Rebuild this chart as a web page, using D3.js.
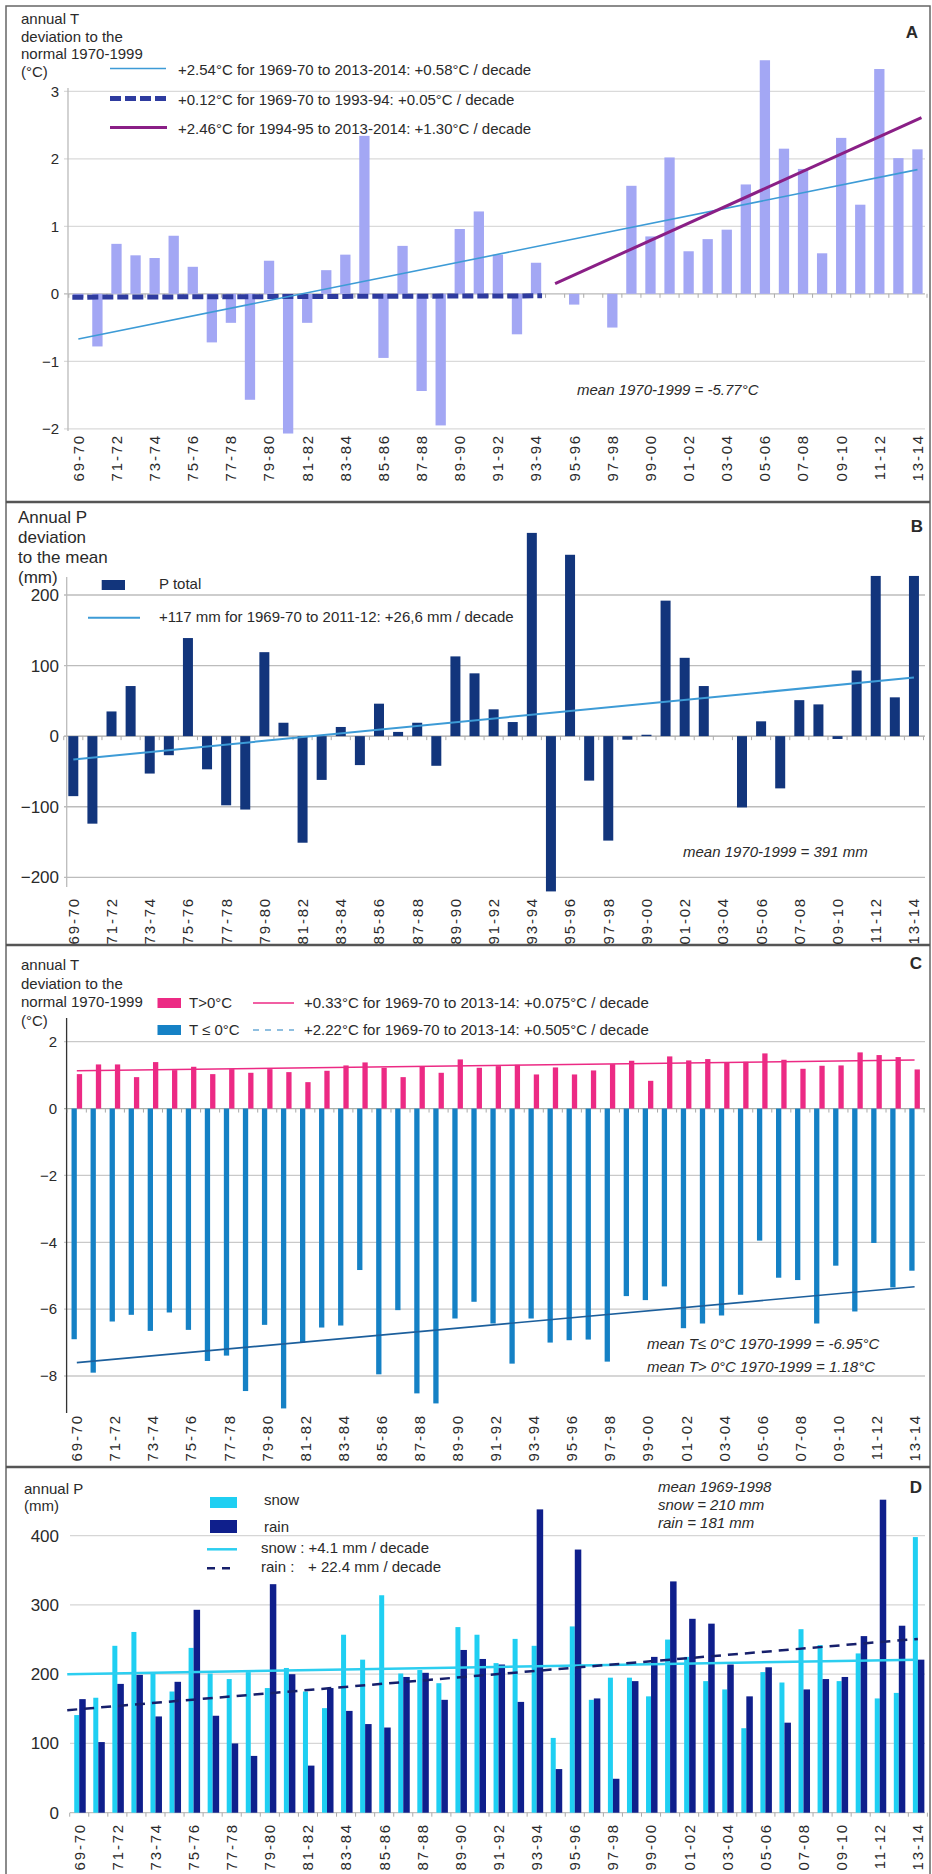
<!DOCTYPE html>
<html><head><meta charset="utf-8">
<script src="https://cdn.jsdelivr.net/npm/d3@7"></script>
<style>
body{margin:0;background:#fff}
svg{display:block}
text{font-family:"Liberation Sans",Arial,sans-serif;fill:#2a2a2a}
</style>
</head><body>
<svg id="chart" width="932" height="1874"></svg>
<script>
// ---------- DATA ----------
const categories = ["69-70","70-71","71-72","72-73","73-74","74-75","75-76","76-77","77-78","78-79",
  "79-80","80-81","81-82","82-83","83-84","84-85","85-86","86-87","87-88","88-89",
  "89-90","90-91","91-92","92-93","93-94","94-95","95-96","96-97","97-98","98-99",
  "99-00","00-01","01-02","02-03","03-04","04-05","05-06","06-07","07-08","08-09",
  "09-10","10-11","11-12","12-13","13-14"];
const tickLabels = ["69-70","71-72","73-74","75-76","77-78","79-80","81-82","83-84","85-86","87-88",
  "89-90","91-92","93-94","95-96","97-98","99-00","01-02","03-04","05-06","07-08","09-10","11-12","13-14"];

// Panel A: annual T deviation (°C)
const tempDev = [-0.06,-0.78,0.74,0.57,0.53,0.86,0.40,-0.72,-0.43,-1.57,
  0.49,-2.07,-0.43,0.35,0.58,2.34,-0.95,0.71,-1.44,-1.95,
  0.96,1.22,0.58,-0.60,0.46,0,-0.16,0,-0.50,1.60,
  0.85,2.02,0.63,0.81,0.95,1.62,3.46,2.15,1.85,0.60,
  2.31,1.32,3.33,2.01,2.14];
const trendA_all = [{c:"69-70",v:-0.67},{c:"13-14",v:1.84}];
const trendA_early = [{c:"69-70",v:-0.05},{c:"93-94",v:-0.03}];
const trendA_late = [{c:"94-95",v:0.15},{c:"13-14",v:2.61}];
const ticksA = [-2,-1,0,1,2,3];

// Panel B: annual P deviation (mm)
const precipDev = [-85,-124,35,71,-53,-27,139,-47,-98,-104,
  119,19,-151,-62,13,-41,46,6,19,-42,
  113,89,38,20,288,-220,257,-63,-148,-5,
  2,192,111,71,0,-101,21,-74,51,45,
  -4,93,227,55,227];
const trendB = [{c:"69-70",v:-33},{c:"13-14",v:83}];
const ticksB = [-200,-100,0,100,200];

// Panel C: T>0 and T<=0 deviations (°C)
const tPos = [1.03,1.32,1.32,0.94,1.39,1.15,1.25,1.03,1.18,1.07,
  1.18,1.09,0.79,1.13,1.29,1.38,1.22,0.94,1.25,1.07,
  1.47,1.22,1.27,1.31,1.02,1.23,1.02,1.14,1.33,1.43,
  0.83,1.56,1.44,1.48,1.37,1.40,1.65,1.46,1.19,1.28,
  1.29,1.68,1.60,1.54,1.17];
const tNeg = [-6.90,-7.90,-6.37,-6.17,-6.65,-6.10,-6.62,-7.55,-7.39,-8.45,
  -6.47,-8.97,-7.00,-6.55,-6.49,-4.83,-7.95,-6.03,-8.52,-8.82,
  -6.28,-5.78,-6.43,-7.63,-6.28,-7.00,-6.93,-6.91,-7.57,-5.61,
  -5.73,-5.32,-6.57,-6.43,-6.19,-5.57,-3.95,-5.06,-5.13,-6.43,
  -4.70,-6.07,-4.02,-5.35,-4.85];
const trendCpos = [{c:"69-70",v:1.13},{c:"13-14",v:1.45}];
const trendCneg = [{c:"69-70",v:-7.60},{c:"13-14",v:-5.33}];
const ticksC = [-8,-6,-4,-2,0,2];

// Panel D: annual snow and rain (mm)
const snow = [141,166,241,261,201,175,238,201,193,203,
  180,209,175,151,257,221,314,201,206,187,
  268,257,216,251,241,108,269,163,195,195,
  168,250,225,190,178,122,203,188,265,242,
  190,230,165,173,398];
const rain = [164,102,186,199,139,189,293,140,100,82,
  330,200,68,180,147,128,123,196,202,163,
  235,222,214,160,438,63,380,165,49,190,
  225,334,280,273,214,168,210,130,178,193,
  196,255,452,270,221];
const trendSnow = [{c:"69-70",v:200},{c:"13-14",v:221}];
const trendRain = [{c:"69-70",v:148},{c:"13-14",v:251}];
const ticksD = [0,100,200,300,400];

// ---------- DRAW ----------
const svg = d3.select("#chart");

function band(r){ return d3.scaleBand().domain(categories).range(r).padding(0); }
function ctr(x,c){ return x(c)+x.bandwidth()/2; }

function grid(g, y, ticks, x0, x1, color, zeroColor){
  ticks.forEach(t=>{
    g.append("line").attr("x1",x0).attr("x2",x1).attr("y1",y(t)).attr("y2",y(t))
      .attr("stroke", t===0 ? zeroColor : color).attr("stroke-width",1.3);
  });
}
function yLabels(g, y, ticks, xr, size){
  const ax = d3.axisLeft(y).tickValues(ticks).tickSize(0).tickPadding(0).tickFormat(d3.format("d"));
  const a = g.append("g").attr("transform",`translate(${xr},0)`).call(ax);
  a.select(".domain").remove();
  a.selectAll("text").attr("font-size",size).attr("fill","#2a2a2a")
    .style("font-family",'"Liberation Sans",Arial,sans-serif');
}
function xLabels(g, x, top){
  const ax = d3.axisBottom(x).tickValues(tickLabels).tickSize(0).tickPadding(0);
  const a = g.append("g").attr("transform",`translate(0,${top})`).call(ax);
  a.select(".domain").remove();
  a.selectAll("text").attr("transform","rotate(-90)").attr("text-anchor","end")
    .attr("x",0).attr("y",0).attr("dy","0.36em").attr("font-size",15)
    .attr("letter-spacing","1.8px").attr("fill","#2a2a2a")
    .style("font-family",'"Liberation Sans",Arial,sans-serif');
}
function zeroTicks(g, x, y0){
  const edges = categories.map(c=>x(c)).concat([x.range()[1]]);
  g.selectAll(null).data(edges).enter().append("line")
    .attr("x1",d=>d).attr("x2",d=>d).attr("y1",y0).attr("y2",y0+4)
    .attr("stroke","#aaa").attr("stroke-width",1);
}
function lines(g, list, x0, y0, size, opts){
  list.forEach((t,i)=>{
    g.append("text").attr("x",x0).attr("y",y0[i]).attr("font-size",size)
      .attr("font-style",opts&&opts.italic?"italic":null).text(t);
  });
}
function trend(g, x, y, pts, color, w, dash, dx0, dx1){
  const ln = d3.line().x((d,i)=>ctr(x,d.c)+(i===0?(dx0||0):(dx1||0))).y(d=>y(d.v));
  g.append("path").datum(pts).attr("d",ln).attr("fill","none").attr("stroke",color)
    .attr("stroke-width",w).attr("stroke-dasharray",dash||null);
}
function panelLetter(g, t, x, y){
  g.append("text").attr("x",x).attr("y",y).attr("font-size",17).attr("font-weight","bold")
    .attr("text-anchor","middle").text(t);
}

// frame
svg.append("rect").attr("x",6).attr("y",6).attr("width",924).attr("height",1890)
  .attr("fill","none").attr("stroke","#666").attr("stroke-width",1.5);
[502,945,1467].forEach(yy=>svg.append("line").attr("x1",6).attr("x2",930).attr("y1",yy).attr("y2",yy)
  .attr("stroke","#555").attr("stroke-width",2.5));

// ===== Panel A =====
{
  const g = svg.append("g");
  const x = band([68.8,927]);
  const y = d3.scaleLinear().domain([-2,3]).range([428.8,91.3]);
  grid(g,y,ticksA,64,925,"#dadada","#b8b8b8");
  g.append("line").attr("x1",68).attr("x2",68).attr("y1",88).attr("y2",431).attr("stroke","#bbb").attr("stroke-width",1.3);
  zeroTicks(g,x,y(0));
  g.selectAll(".barA").data(tempDev).enter().append("rect")
    .attr("x",(d,i)=>ctr(x,categories[i])-5.15).attr("width",10.3)
    .attr("y",d=>Math.min(y(d),y(0))).attr("height",d=>Math.abs(y(d)-y(0)))
    .attr("fill","#a3a7f4");
  trend(g,x,y,trendA_early,"#2e3b9f",5,"11,4",-6,6);
  trend(g,x,y,trendA_all,"#3d9bd6",1.6);
  trend(g,x,y,trendA_late,"#8a1f86",3,null,0,4);
  yLabels(g,y,ticksA,59,15);
  xLabels(g,x,434);
  lines(g,["annual T","deviation to the","normal 1970-1999","(°C)"],21,[24,41.5,59,77],15);
  // legend
  g.append("line").attr("x1",110).attr("x2",166).attr("y1",68.5).attr("y2",68.5).attr("stroke","#3d9bd6").attr("stroke-width",1.6);
  g.append("line").attr("x1",110).attr("x2",168).attr("y1",98.5).attr("y2",98.5).attr("stroke","#2e3b9f").attr("stroke-width",5).attr("stroke-dasharray","11,4");
  g.append("line").attr("x1",110).attr("x2",167).attr("y1",127.5).attr("y2",127.5).attr("stroke","#8a1f86").attr("stroke-width",3);
  lines(g,["+2.54°C for 1969-70 to 2013-2014: +0.58°C / decade",
           "+0.12°C for 1969-70 to 1993-94: +0.05°C / decade",
           "+2.46°C for 1994-95 to 2013-2014: +1.30°C / decade"],178,[75,105,134],15);
  lines(g,["mean 1970-1999 = -5.77°C"],577,[395],15,{italic:true});
  panelLetter(g,"A",912,38);
}

// ===== Panel B =====
{
  const g = svg.append("g");
  const x = band([63.75,923.5]);
  const y = d3.scaleLinear().domain([-200,200]).range([877.3,595]);
  grid(g,y,ticksB,64,925,"#bcbcbc","#a5a5a5");
  g.append("line").attr("x1",66.7).attr("x2",66.7).attr("y1",577).attr("y2",887).attr("stroke","#bbb").attr("stroke-width",1.3);
  zeroTicks(g,x,y(0));
  g.selectAll(".barB").data(precipDev).enter().append("rect")
    .attr("x",(d,i)=>ctr(x,categories[i])-5).attr("width",10)
    .attr("y",d=>Math.min(y(d),y(0))).attr("height",d=>Math.abs(y(d)-y(0)))
    .attr("fill","#12357c");
  trend(g,x,y,trendB,"#3d9bd6",2);
  yLabels(g,y,ticksB,59,17);
  xLabels(g,x,897);
  lines(g,["Annual P","deviation","to the mean","(mm)"],18,[523,543,563,583],17);
  g.append("rect").attr("x",101.7).attr("y",580).attr("width",23.3).attr("height",10).attr("fill","#12357c");
  lines(g,["P total"],159,[588.5],15);
  g.append("line").attr("x1",88).attr("x2",140).attr("y1",617.7).attr("y2",617.7).attr("stroke","#3d9bd6").attr("stroke-width",2);
  lines(g,["+117 mm for 1969-70 to 2011-12: +26,6 mm / decade"],159,[622],15);
  lines(g,["mean 1970-1999 = 391 mm"],683,[857],15,{italic:true});
  panelLetter(g,"B",917,532);
}

// ===== Panel C =====
{
  const g = svg.append("g");
  const x = band([67.3,924.1]);
  const y = d3.scaleLinear().domain([-8,2]).range([1376,1041.7]);
  grid(g,y,ticksC,64,925,"#c9c9c9","#a9b0a9");
  g.append("line").attr("x1",66.6).attr("x2",66.6).attr("y1",1018).attr("y2",1413).attr("stroke","#333").attr("stroke-width",1.3);
  zeroTicks(g,x,y(0));
  g.selectAll(".barCn").data(tNeg).enter().append("rect")
    .attr("x",(d,i)=>ctr(x,categories[i])-5.3).attr("width",5.3)
    .attr("y",y(0)).attr("height",d=>y(d)-y(0)).attr("fill","#1581c5");
  g.selectAll(".barCp").data(tPos).enter().append("rect")
    .attr("x",(d,i)=>ctr(x,categories[i])).attr("width",5.3)
    .attr("y",d=>y(d)).attr("height",d=>y(0)-y(d)).attr("fill","#ec2a84");
  trend(g,x,y,trendCpos,"#ec2a84",1.5);
  trend(g,x,y,trendCneg,"#1c5f9c",1.6);
  yLabels(g,y,ticksC,57,15);
  xLabels(g,x,1414);
  lines(g,["annual T","deviation to the","normal 1970-1999","(°C)"],21,[970,988.5,1007,1026],15);
  g.append("rect").attr("x",157.5).attr("y",998).attr("width",23.5).attr("height",10).attr("fill","#ec2a84");
  g.append("rect").attr("x",157.5).attr("y",1025).attr("width",23.5).attr("height",10).attr("fill","#1581c5");
  lines(g,["T>0°C","T ≤ 0°C"],189,[1008,1034.5],15);
  g.append("line").attr("x1",253).attr("x2",294).attr("y1",1003).attr("y2",1003).attr("stroke","#ec2a84").attr("stroke-width",1.5);
  g.append("line").attr("x1",253).attr("x2",294).attr("y1",1030).attr("y2",1030).attr("stroke","#8fbfe0").attr("stroke-width",2).attr("stroke-dasharray","6,6");
  lines(g,["+0.33°C for 1969-70 to 2013-14: +0.075°C / decade",
           "+2.22°C for 1969-70 to 2013-14: +0.505°C / decade"],304,[1008,1034.5],15);
  lines(g,["mean T≤ 0°C 1970-1999 = -6.95°C","mean T> 0°C 1970-1999 = 1.18°C"],647,[1348.5,1371.5],15,{italic:true});
  panelLetter(g,"C",916,969);
}

// ===== Panel D =====
{
  const g = svg.append("g");
  const x = band([69.7,927.4]);
  const y = d3.scaleLinear().domain([0,400]).range([1812.7,1535.7]);
  grid(g,y,ticksD,70,925,"#d6d6d6","#c0c0c0");
  zeroTicks(g,x,y(0));
  g.selectAll(".barS").data(snow).enter().append("rect")
    .attr("x",(d,i)=>ctr(x,categories[i])-5).attr("width",5)
    .attr("y",d=>y(d)).attr("height",d=>y(0)-y(d)).attr("fill","#1fcff2");
  g.selectAll(".barR").data(rain).enter().append("rect")
    .attr("x",(d,i)=>ctr(x,categories[i])).attr("width",6.5)
    .attr("y",d=>y(d)).attr("height",d=>y(0)-y(d)).attr("fill","#0f1f8c");
  trend(g,x,y,trendSnow,"#2ccef0",2.5,null,-12,0);
  trend(g,x,y,trendRain,"#161f6b",2.5,"10,7",-12,0);
  yLabels(g,y,ticksD,59,17);
  xLabels(g,x,1823);
  lines(g,["annual P","(mm)"],24,[1494,1511],15);
  g.append("rect").attr("x",210).attr("y",1497).attr("width",27).attr("height",11).attr("fill","#1fcff2");
  g.append("rect").attr("x",210).attr("y",1520).attr("width",27).attr("height",13).attr("fill","#0f1f8c");
  lines(g,["snow","rain"],264,[1505,1531.5],15);
  g.append("line").attr("x1",207).attr("x2",237).attr("y1",1549.3).attr("y2",1549.3).attr("stroke","#2ccef0").attr("stroke-width",2.5);
  g.append("line").attr("x1",207).attr("x2",237).attr("y1",1568.3).attr("y2",1568.3).attr("stroke","#161f6b").attr("stroke-width",2.5).attr("stroke-dasharray","8,7");
  lines(g,["snow : +4.1 mm / decade","rain :"],261,[1553,1572],15);
  lines(g,["+ 22.4 mm / decade"],308,[1572],15);
  lines(g,["mean 1969-1998","snow = 210 mm","rain = 181 mm"],658,[1491.7,1510,1527.5],15,{italic:true});
  panelLetter(g,"D",916,1493);
}
</script>
</body></html>
